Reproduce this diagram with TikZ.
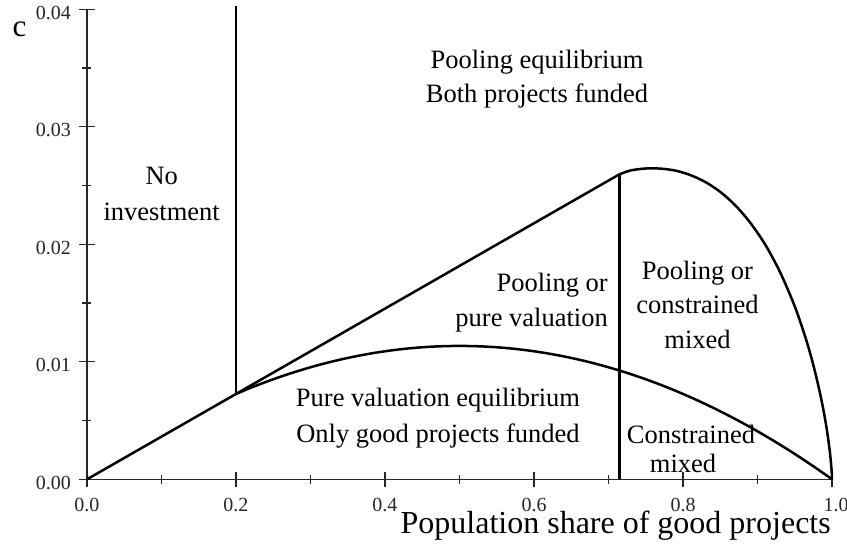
\documentclass[tikz,border=0pt]{standalone}
\usepackage{fontspec}
\setmainfont{Liberation Serif}
\usetikzlibrary{calc}

\begin{document}
\begin{tikzpicture}[x=745pt, y=117.5pt, every node/.style={inner sep=0pt}]
\tikzstyle{curve}=[line width=2.5pt, line join=round]
\tikzstyle{axisline}=[line width=1.3pt, black!85]
\tikzstyle{region}=[font=\fontsize{26.5}{30}\selectfont, anchor=base]
\tikzstyle{ticklab}=[font=\fontsize{20}{22}\selectfont, black!85]

\useasboundingbox (-87pt,-64.7pt) rectangle (760pt,479.3pt);

% Axes and ticks
\draw[axisline] (0,0) -- (1,0);
\draw[axisline] (0,0) -- (0,4);
\foreach \v in {0,...,4} {
  \draw[axisline] ($(0,\v)+(-8pt,0)$) -- ($(0,\v)+(8pt,0)$);
  \node[ticklab, anchor=base east] (ylab\v) at ($(0,\v)+(-16pt,-10pt)$) {0.0\v};
}
\foreach \v in {0.5,1.5,2.5,3.5}
  \draw[axisline] ($(0,\v)+(-5pt,0)$) -- ($(0,\v)+(4pt,0)$);
\foreach \v/\t in {0/0.0,0.2/0.2,0.4/0.4,0.6/0.6,0.8/0.8} {
  \draw[axisline] ($(\v,0)+(0,-8pt)$) -- ($(\v,0)+(0,7pt)$);
  \node[ticklab, anchor=base] (xlab\t) at ($(\v,0)+(0,-32.4pt)$) {\t};
}
\draw[axisline] ($(1,0)+(0,-8pt)$) -- ($(1,0)+(0,7pt)$);
\node[ticklab, anchor=base] (xlabend) at ($(1,0)+(4pt,-32.4pt)$) {1.0};
\foreach \v in {0.1,0.3,0.5,0.7,0.9}
  \draw[axisline] ($(\v,0)+(0,-5pt)$) -- ($(\v,0)+(0,4pt)$);

\node[font=\fontsize{31}{34}\selectfont, anchor=base] (clab) at ($(0,0)+(-67.5pt,442.3pt)$) {c};
\node[font=\fontsize{32}{34}\selectfont, anchor=base east] (xtitle) at ($(0,0)+(744pt,-54.7pt)$) {Population share of good projects};

% Boundaries
\draw[curve] (0,0) -- (0.7145,2.595);
\draw[curve] plot[domain=0.2:1, samples=120] (\x,{4.54*\x*(1-\x)});
\draw[curve] (0.2,0.726) -- (0.2,4.03);
\draw[curve] (0.7145,0) -- (0.7145,2.595);
\draw[curve] plot[smooth, tension=0.5] coordinates {
  (0.7145,2.595) (0.73,2.629) (0.75,2.645) (0.77,2.644) (0.79,2.627)
  (0.81,2.589) (0.83,2.530) (0.85,2.446) (0.87,2.333) (0.89,2.186)
  (0.91,2.001) (0.93,1.767) (0.95,1.472) (0.965,1.194) (0.975,0.971)
  (0.985,0.701) (0.992,0.465) (0.997,0.241) (0.9995,0.072) (1,0)};

% Region labels
\node[region] (pool1) at ($(0,0)+(450pt,411pt)$) {Pooling equilibrium};
\node[region] (pool2) at ($(0,0)+(450pt,376.6pt)$) {Both projects funded};
\node[region] (noinv1) at ($(0,0)+(74.7pt,294.3pt)$) {No};
\node[region] (noinv2) at ($(0,0)+(74.7pt,258.3pt)$) {investment};
\node[region, anchor=base east] (popv1) at ($(0,0)+(521pt,187.3pt)$) {Pooling or};
\node[region, anchor=base east] (popv2) at ($(0,0)+(521pt,152.3pt)$) {pure valuation};
\node[region] (pocm1) at ($(0,0)+(610.5pt,199.3pt)$) {Pooling or};
\node[region] (pocm2) at ($(0,0)+(610.5pt,165.3pt)$) {constrained};
\node[region] (pocm3) at ($(0,0)+(610.5pt,130.3pt)$) {mixed};
\node[region] (pure1) at ($(0,0)+(351pt,72.3pt)$) {Pure valuation equilibrium};
\node[region] (pure2) at ($(0,0)+(351pt,36.3pt)$) {Only good projects funded};
\node[region] (cmix1) at ($(0,0)+(604pt,35.3pt)$) {Constrained};
\node[region] (cmix2) at ($(0,0)+(596pt,6.3pt)$) {mixed};
\end{tikzpicture}
\end{document}
